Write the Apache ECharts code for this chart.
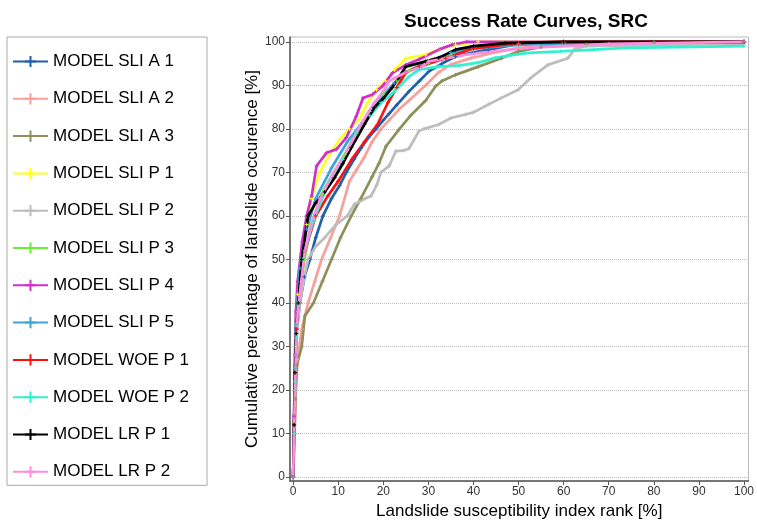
<!DOCTYPE html>
<html>
<head>
<meta charset="utf-8">
<script src="https://cdn.jsdelivr.net/npm/echarts@6/dist/echarts.min.js"></script>
<style>
  html, body { margin: 0; padding: 0; background: #fff; }
  #main { width: 757px; height: 525px; }
</style>
</head>
<body>
<div id="main"></div>
<script>
var myChart = echarts.init(document.getElementById('main'));

// tick labels on both axes
var ticks = [0, 10, 20, 30, 40, 50, 60, 70, 80, 90, 100];

var names = ['MODEL SLI A 1', 'MODEL SLI A 2', 'MODEL SLI A 3', 'MODEL SLI P 1', 'MODEL SLI P 2', 'MODEL SLI P 3',
             'MODEL SLI P 4', 'MODEL SLI P 5', 'MODEL WOE P 1', 'MODEL WOE P 2', 'MODEL LR P 1', 'MODEL LR P 2'];
var colors = ['#1f5fb0', '#f7a09c', '#8f8f5c', '#ffff22', '#bdbdbd', '#66f033',
              '#d030c8', '#3aa6d8', '#ff1010', '#33f0d0', '#000000', '#ff8ce0'];

// [rank %, cumulative %]
var sliA1 = [[0,0],[0.2,10],[0.4,20],[0.6,28],[0.8,34],[1.5,40],[2.5,46],[3.7,50],[5,55],[6.6,60],[8.5,64],[10.3,67],[11.8,70],[13.5,73],[15,75.5],[16.7,78],[18.4,80],[20,82],[21.3,83.5],[23,85.5],[25.7,88.6],[28,91],[30.1,93.2],[33,95],[36,96.6],[40,97.6],[43.3,98.2],[50,99.5],[60,99.8],[80,100],[100,100]];
var sliA2 = [[0,0],[0.3,10],[0.6,20],[1,27],[1.9,34],[3.3,40],[4.8,45],[6.3,50],[8.3,55],[10.3,60],[12.5,68],[14,70.5],[15.8,73.5],[17.5,77],[19.5,80],[21.3,82],[23.5,84.5],[25.7,86.5],[29.4,90],[32.3,93],[35,94.8],[39.6,96.3],[45,97.6],[50,98.6],[60,99.2],[80,99.6],[100,100]];
var sliA3 = [[0,0],[0.3,10],[0.5,18],[0.8,25.7],[1.9,30],[2.6,37],[4.5,40],[6.5,45],[8.5,50],[10.5,55],[12.9,60],[15,64],[17.5,69],[19,72],[20.6,76],[23.5,79.9],[26,83],[29.4,86.5],[31.6,89.8],[33,91],[36,92.4],[41.1,94.3],[46.2,96.2],[50,97.8],[55,98.8],[65,99.4],[80,99.7],[100,100]];
var sliP1 = [[0,0],[0.2,12],[0.4,25],[0.6,35],[1,42],[1.8,50],[3,58],[4,64],[5.9,70],[8,74],[10.3,77.6],[12.5,80],[14.7,82.2],[16.5,86],[18.5,89],[20.5,91],[22.5,93.5],[25,96.2],[29.4,97],[32.3,98.2],[36,99.3],[41,100],[100,100]];
var sliP2 = [[0,0],[0.2,10],[0.4,20],[0.7,30],[1,35],[1.5,40],[2.3,45],[3.3,50],[5,53],[7,55],[9.5,58],[12,60],[13.6,62.7],[16,64],[17.3,64.6],[18.5,67],[19.5,70],[21.3,71.5],[22.8,74.9],[24.5,75],[25.7,75.5],[27.9,79.5],[29,80],[32.3,81],[35,82.5],[38.2,83.3],[40,83.8],[43.3,85.6],[46,87],[49.9,89],[52.7,91.7],[56.5,94.7],[60.9,96.2],[62.6,98.5],[65,99],[80,99.3],[100,99.5]];
var sliP3 = [[0,0],[0.2,12],[0.4,24],[0.7,33],[1,40],[2.5,50],[4,58],[6.3,65],[9,70],[11.4,74],[14,79],[17,84],[20,88],[23,91],[26,93.5],[30,95],[35,97],[40,98.5],[50,99.5],[60,100],[100,100]];
var sliP4 = [[0,0],[0.2,14],[0.4,28],[0.6,38],[1,45],[2,54],[3,60],[4.1,64.6],[5.2,71.5],[7.4,74.5],[9.6,75.3],[11.8,78],[14,82.9],[15.5,87.1],[17.6,87.9],[19.8,89.8],[22,92.8],[25,94.7],[28,96],[32.3,98.2],[35.2,99.3],[38.5,100],[100,100]];
var sliP5 = [[0,0],[0.2,12],[0.4,25],[0.6,35],[1.5,48],[3,57],[5,64],[8.5,71],[12,77],[15,81],[18,85],[22.4,90.5],[25,93],[30,95.5],[35,97.5],[40,98.5],[50,99.3],[60,99.7],[100,100]];
var woeP1 = [[0,0],[0.2,12],[0.4,24],[0.7,34],[1,40],[2.6,52],[5,60],[7.7,64.6],[10,68],[13,73],[15.8,77],[18.7,81],[21,86],[23,89.5],[25,93],[28,94.3],[33.8,96.2],[40,98.5],[50,99.7],[60,100],[100,100]];
var woeP2 = [[0,0],[0.2,10],[0.4,22],[0.7,32],[1,40],[2,50],[4.4,58.6],[8,68],[11,73],[14,79],[17,83],[19.5,86],[21.3,87.5],[22.4,88.6],[25.7,92],[27.9,93.6],[32.3,94.3],[37,94.6],[41,95.2],[44.8,96.3],[51.4,97.4],[59.3,97.8],[66.7,98.2],[74,98.6],[100,99]];
var lrP1 = [[0,0],[0.2,12],[0.4,24],[0.7,33],[1.1,40],[1.9,50],[3.3,60],[5,63],[7,65.5],[9.2,68.8],[11,72],[12.9,75.7],[15.8,81],[18,84.9],[20,87],[22,89.5],[25,94.3],[29.4,95.5],[32.3,96.3],[36,98.2],[40,99],[47,99.7],[60,100],[100,100]];
var lrP2 = [[0,0],[0.3,15],[0.6,28],[1,38],[2.6,52],[4,58],[6,64],[9,70],[12,75],[15,81],[18,86],[20,88.6],[21.3,91],[25,93],[28.6,94.3],[30,95.5],[40,97.3],[52,98.6],[70,99.5],[100,100]];

var curves = [sliA1, sliA2, sliA3, sliP1, sliP2, sliP3, sliP4, sliP5, woeP1, woeP2, lrP1, lrP2];

var font = 'Liberation Sans, Arial, sans-serif';

var series = names.map(function (n, i) {
    return {
        name: n,
        type: 'line',
        data: curves[i],
        symbol: 'path://M0,5L10,5M5,0L5,10',
        symbolSize: 4,
        showSymbol: true,
        lineStyle: { color: colors[i], width: 2.7 },
        itemStyle: { color: colors[i], borderColor: colors[i], borderWidth: 1 },
        emphasis: { disabled: true },
        animation: false
    };
});

var option = {
    backgroundColor: '#fff',
    color: colors,
    title: {
        text: 'Success Rate Curves, SRC',
        left: 521,
        textAlign: 'center',
        top: 7,
        textStyle: { fontFamily: font, fontSize: 19, fontWeight: 'bold', color: '#000' }
    },
    legend: {
        orient: 'vertical',
        left: 7,
        top: 37,
        padding: [16, 18, 5, 5],
        itemWidth: 35,
        itemHeight: 14,
        itemGap: 20.3,
        borderColor: '#aaa',
        borderWidth: 1,
        textStyle: { fontFamily: font, fontSize: 17, color: '#000' },
        data: names
    },
    grid: {
        left: 290,
        right: 5,
        top: 37,
        bottom: 42,
        show: true,
        borderColor: '#bbb',
        borderWidth: 1
    },
    xAxis: {
        type: 'value',
        min: -0.7,
        max: 101,
        name: 'Landslide susceptibility index rank [%]',
        nameLocation: 'middle',
        nameGap: 19,
        nameTextStyle: { fontFamily: font, fontSize: 17, color: '#000', verticalAlign: 'top' },
        axisLine: { onZero: false, lineStyle: { color: '#555', width: 1.5 } },
        axisTick: { customValues: ticks, length: 4, lineStyle: { color: '#555' } },
        axisLabel: { customValues: ticks, fontFamily: font, fontSize: 12, color: '#333', margin: 5 },
        splitLine: { show: false }
    },
    yAxis: {
        type: 'value',
        min: -0.9,
        max: 101.1,
        name: 'Cumulative percentage of landslide occurence [%]',
        nameLocation: 'middle',
        nameMoveOverlap: false,
        nameGap: 29,
        nameTextStyle: { fontFamily: font, fontSize: 17, color: '#000' },
        axisLine: { onZero: false, lineStyle: { color: '#555', width: 1.5 } },
        axisTick: { customValues: ticks, length: 4, lineStyle: { color: '#555' } },
        axisLabel: { customValues: ticks, fontFamily: font, fontSize: 12, color: '#333', margin: 5 },
        splitLine: { show: true, lineStyle: { color: '#bbb', type: 'dotted', width: 1 } }
    },
    series: series
};

myChart.setOption(option);
</script>
</body>
</html>
